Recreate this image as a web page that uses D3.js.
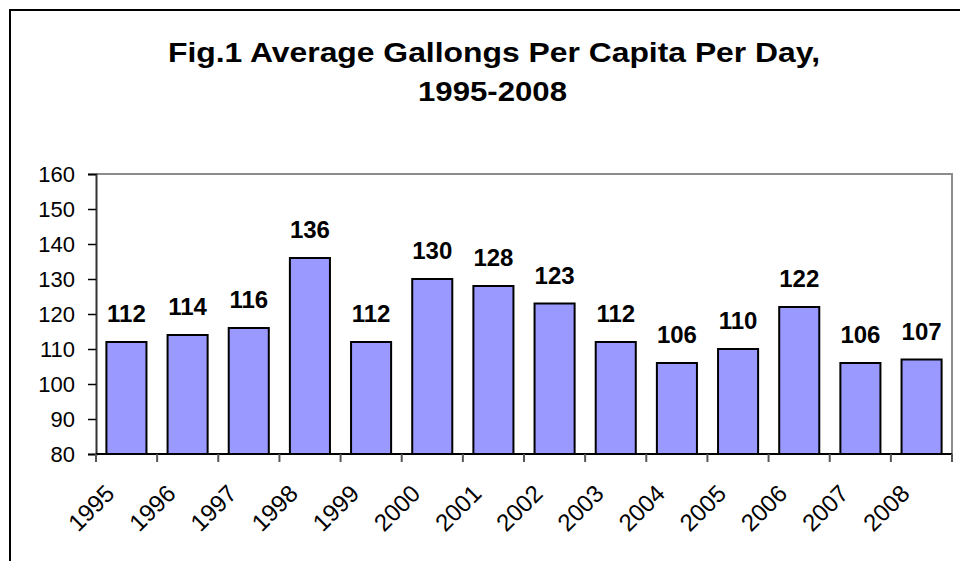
<!DOCTYPE html>
<html>
<head>
<meta charset="utf-8">
<script src="https://cdn.jsdelivr.net/npm/d3@7"></script>
<style>
  body { margin: 0; background: #fff; }
  text { font-family: "Liberation Sans", Arial, sans-serif; }
</style>
</head>
<body>
<svg id="chart" width="960" height="561"></svg>
<script>
// chart data
var years = ["1995", "1996", "1997", "1998", "1999", "2000", "2001", "2002", "2003", "2004", "2005", "2006", "2007", "2008"];
var gallons = [112, 114, 116, 136, 112, 130, 128, 123, 112, 106, 110, 122, 106, 107];
var yTicks = [80, 90, 100, 110, 120, 130, 140, 150, 160];
var titleLines = ["Fig.1 Average Gallongs Per Capita Per Day,", "1995-2008"];

var svg = d3.select("#chart");
var plot = { left: 96, top: 174, right: 952, bottom: 454 };

// outer frame (right/bottom run off the page)
svg.append("path")
  .attr("d", "M10,570 L10,10 L970,10")
  .attr("fill", "none").attr("stroke", "#000").attr("stroke-width", 2);

var titleWidths = [652, 149];
svg.selectAll("text.title").data(titleLines).enter().append("text")
  .attr("class", "title")
  .attr("x", function(d, i) { return i ? 492.5 : 494; })
  .attr("y", function(d, i) { return 62 + i * 39; })
  .attr("text-anchor", "middle")
  .attr("font-size", 28).attr("font-weight", "bold")
  .attr("textLength", function(d, i) { return titleWidths[i]; })
  .attr("lengthAdjust", "spacingAndGlyphs")
  .text(function(d) { return d; });

var x = d3.scaleBand().domain(years).range([plot.left, plot.right]).paddingInner(0.345).paddingOuter(0.17);
var y = d3.scaleLinear().domain([80, 160]).range([plot.bottom, plot.top]);

// plot area border (top & right gray)
svg.append("path")
  .attr("d", "M" + plot.left + "," + plot.top + " L" + plot.right + "," + plot.top + " L" + plot.right + "," + plot.bottom)
  .attr("fill", "none").attr("stroke", "#8c8c8c").attr("stroke-width", 2);

svg.selectAll("rect.bar").data(gallons).enter().append("rect")
  .attr("class", "bar")
  .attr("x", function(d, i) { return x(years[i]); })
  .attr("y", function(d) { return y(d); })
  .attr("width", x.bandwidth())
  .attr("height", function(d) { return y(80) - y(d); })
  .attr("fill", "#9999ff").attr("stroke", "#000").attr("stroke-width", 2);

svg.selectAll("text.val").data(gallons).enter().append("text")
  .attr("class", "val")
  .attr("x", function(d, i) { return x(years[i]) + x.bandwidth() / 2; })
  .attr("y", function(d) { return y(d) - 20; })
  .attr("text-anchor", "middle")
  .attr("font-size", 24).attr("font-weight", "bold")
  .text(function(d) { return d; });

// y axis
var yAxis = svg.append("g")
  .attr("transform", "translate(" + plot.left + ",0)")
  .call(d3.axisLeft(y).tickValues(yTicks).tickSize(8).tickPadding(13));
yAxis.select(".domain").attr("stroke", "#333").attr("stroke-width", 2);
yAxis.selectAll(".tick line").attr("stroke", "#000").attr("stroke-width", 1.5);
yAxis.selectAll(".tick text").attr("font-size", 22).attr("fill", "#000")
  .attr("font-family", "'Liberation Sans', Arial, sans-serif");

// x axis: ticks at band boundaries
var boundaries = d3.range(years.length + 1).map(function(i) { return plot.left + i * (plot.right - plot.left) / years.length; });
var xg = svg.append("g");
xg.append("line")
  .attr("x1", plot.left).attr("x2", plot.right)
  .attr("y1", plot.bottom).attr("y2", plot.bottom)
  .attr("stroke", "#000").attr("stroke-width", 2);
xg.selectAll("line.tk").data(boundaries).enter().append("line")
  .attr("class", "tk")
  .attr("x1", function(d) { return d; }).attr("x2", function(d) { return d; })
  .attr("y1", plot.bottom).attr("y2", plot.bottom + 8)
  .attr("stroke", "#555").attr("stroke-width", 2);

xg.selectAll("text.yr").data(years).enter().append("text")
  .attr("class", "yr")
  .attr("transform", function(d) {
    var cx = x(d) + x.bandwidth() / 2 - 10.5;
    return "translate(" + cx + "," + (plot.bottom + 41) + ") rotate(-45)";
  })
  .attr("text-anchor", "end")
  .attr("font-size", 24)
  .text(function(d) { return d; });
</script>
</body>
</html>
